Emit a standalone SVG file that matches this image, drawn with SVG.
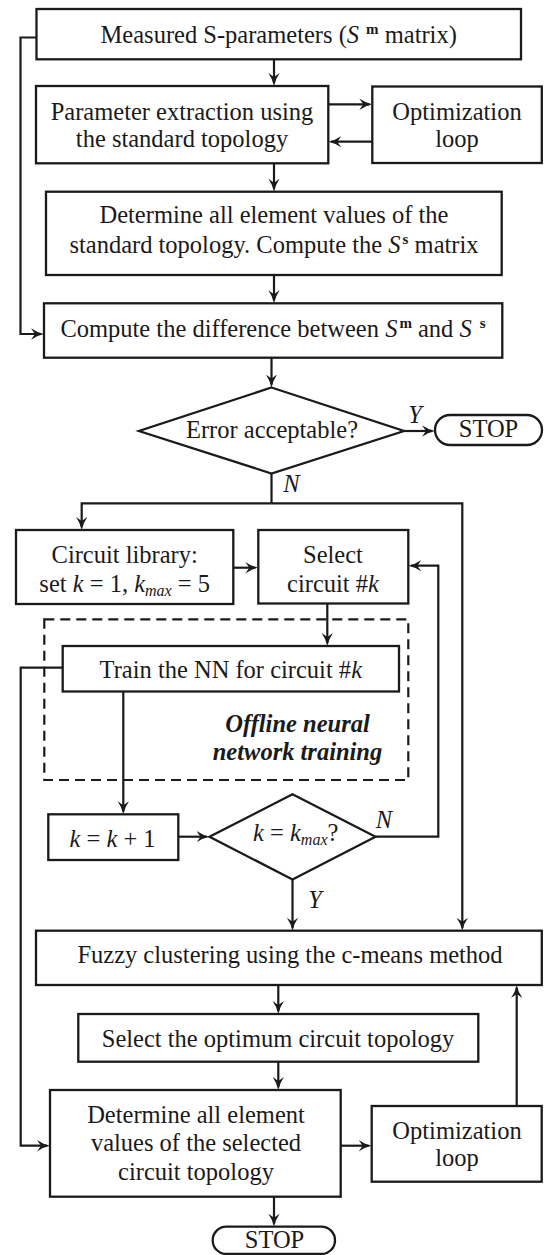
<svg xmlns="http://www.w3.org/2000/svg" width="544" height="1255" viewBox="0 0 544 1255">
<defs>
<style>
.box{fill:#fff;stroke:#1a1a1a;stroke-width:2.3}
.dash{fill:none;stroke:#1a1a1a;stroke-width:2.2;stroke-dasharray:10 6}
.conn{fill:none;stroke:#1a1a1a;stroke-width:2.2}
.arr{marker-end:url(#ah)}
text{font-family:"Liberation Serif","Times New Roman",serif;font-size:24.5px;fill:#1a1a1a}
.c{text-anchor:middle}
.i{font-style:italic}
.sup{font-size:15px;font-weight:bold}
.sub{font-size:16px;font-style:italic}
.bi{font-style:italic;font-weight:bold}
</style>
<marker id="ah" viewBox="0 0 13 12" refX="10" refY="6" markerWidth="13" markerHeight="12" markerUnits="userSpaceOnUse" orient="auto">
<path d="M0,0.3 Q6,4.6 13,6 Q6,7.4 0,11.7 L4,6 z" fill="#1a1a1a"/>
</marker>
</defs>
<rect width="544" height="1255" fill="#fff"/>

<g id="connectors">
<path class="conn arr" d="M274,59.5 V83"/>
<path class="conn arr" d="M328,104.3 H369.3"/>
<path class="conn arr" d="M372.3,141.7 H331.3"/>
<path class="conn arr" d="M274,163.3 V188.7"/>
<path class="conn arr" d="M274,275 V300.3"/>
<path class="conn arr" d="M36.5,37.5 H20.5 V334 H41"/>
<path class="conn arr" d="M271.5,357.7 V384.5"/>
<path class="conn arr" d="M404,431 H432"/>
<path class="conn" d="M271.5,473.5 V503.3"/>
<path class="conn arr" d="M271.5,503.3 H81.7 V527"/>
<path class="conn arr" d="M271.5,503.3 H462.3 V927.7"/>
<path class="conn arr" d="M233.3,567.7 H255.3"/>
<path class="conn arr" d="M327.3,603.5 V643"/>
<path class="conn arr" d="M62.7,667.7 H20.7 V1145.7 H47"/>
<path class="conn arr" d="M123.3,691.5 V811.3"/>
<path class="conn arr" d="M178.3,836.7 H206.5"/>
<path class="conn arr" d="M375.5,836.7 H438.3 V565.7 H411.3"/>
<path class="conn arr" d="M292.5,879.5 V927.7"/>
<path class="conn arr" d="M278.3,985 V1011"/>
<path class="conn arr" d="M278.3,1061.7 V1087"/>
<path class="conn arr" d="M340.7,1145.7 H368.7"/>
<path class="conn arr" d="M516.7,1106 V988"/>
<path class="conn arr" d="M274,1196.7 V1223.7"/>
</g>

<g id="measured">
<rect class="box" x="36.5" y="9" width="484.5" height="50.3"/>
<text class="c" x="278.7" y="42.5">Measured S-parameters (<tspan class="i">S</tspan><tspan class="sup" dx="7" dy="-9">m</tspan><tspan dy="9"> matrix)</tspan></text>
</g>

<g id="extraction">
<rect class="box" x="36" y="86" width="292.3" height="77.3"/>
<text class="c" x="182" y="119.5">Parameter extraction using</text>
<text class="c" x="182" y="147">the standard topology</text>
</g>

<g id="opt1">
<rect class="box" x="372.3" y="86.5" width="169.5" height="76.5"/>
<text class="c" x="457" y="119.5">Optimization</text>
<text class="c" x="457" y="147">loop</text>
</g>

<g id="determine-std">
<rect class="box" x="46" y="191.7" width="455.7" height="83.3"/>
<text class="c" x="274" y="223.3">Determine all element values of the</text>
<text class="c" x="274" y="253.3">standard topology. Compute the <tspan class="i">S</tspan><tspan class="sup" dx="2" dy="-9">s</tspan><tspan dy="9"> matrix</tspan></text>
</g>

<g id="difference">
<rect class="box" x="44" y="303.3" width="458.3" height="54.4"/>
<text class="c" x="273" y="336.7">Compute the difference between <tspan class="i">S</tspan><tspan class="sup" dx="2" dy="-9">m</tspan><tspan dy="9"> and </tspan><tspan class="i">S</tspan><tspan class="sup" dx="8" dy="-9">s</tspan></text>
</g>

<g id="error-decision">
<polygon class="box" points="271.5,387.5 404,431 271.5,473.5 139,431"/>
<text class="c" x="272" y="438">Error acceptable?</text>
<text class="i" x="408.3" y="423.3">Y</text>
<text class="i" x="283.3" y="492.3">N</text>
</g>

<g id="stop1">
<rect class="box" x="435" y="415" width="107" height="30" rx="15" ry="15"/>
<text class="c" x="488.5" y="437.3">STOP</text>
</g>

<g id="library">
<rect class="box" x="16" y="530" width="217.3" height="74"/>
<text class="c" x="124.7" y="563.3">Circuit library:</text>
<text class="c" x="124.7" y="591.7">set <tspan class="i">k</tspan> = 1, <tspan class="i">k</tspan><tspan class="sub" dy="4">max</tspan><tspan dy="-4"> = 5</tspan></text>
</g>

<g id="select-circuit">
<rect class="box" x="258.3" y="530" width="150" height="73.5"/>
<text class="c" x="333" y="563.3">Select</text>
<text class="c" x="333" y="591.7">circuit #<tspan class="i">k</tspan></text>
</g>

<g id="offline-training">
<rect class="dash" x="44.3" y="619.3" width="364" height="160.7"/>
<text class="c bi" x="297.5" y="731.7">Offline neural</text>
<text class="c bi" x="297.5" y="760">network training</text>
</g>

<g id="train">
<rect class="box" x="62.7" y="646" width="336.3" height="45.5"/>
<text class="c" x="230.8" y="678.3">Train the NN for circuit #<tspan class="i">k</tspan></text>
</g>

<g id="increment">
<rect class="box" x="48.3" y="814.3" width="130" height="45.7"/>
<text class="c" x="112.5" y="846.7"><tspan class="i">k</tspan> = <tspan class="i">k</tspan> + 1</text>
</g>

<g id="kmax-decision">
<polygon class="box" points="292.5,794.3 375.5,836.7 292.5,879.5 209.5,836.7"/>
<text class="c" x="295.7" y="841"><tspan class="i">k</tspan> = <tspan class="i">k</tspan><tspan class="sub" dy="4">max</tspan><tspan dy="-4">?</tspan></text>
<text class="i" x="375.7" y="828.3">N</text>
<text class="i" x="308.3" y="908.3">Y</text>
</g>

<g id="fuzzy">
<rect class="box" x="36" y="930.7" width="505.8" height="54.3"/>
<text class="c" x="290" y="963.3">Fuzzy clustering using the c-means method</text>
</g>

<g id="select-optimum">
<rect class="box" x="78.3" y="1014" width="400" height="47.7"/>
<text class="c" x="278" y="1046.7">Select the optimum circuit topology</text>
</g>

<g id="determine-selected">
<rect class="box" x="50" y="1090" width="290.7" height="106.7"/>
<text class="c" x="196" y="1122.7">Determine all element</text>
<text class="c" x="196" y="1151">values of the selected</text>
<text class="c" x="196" y="1179.5">circuit topology</text>
</g>

<g id="opt2">
<rect class="box" x="371.7" y="1106" width="170" height="75.7"/>
<text class="c" x="457" y="1138.5">Optimization</text>
<text class="c" x="457" y="1165.5">loop</text>
</g>

<g id="stop2">
<rect class="box" x="212.7" y="1226.7" width="122.3" height="27.3" rx="13.6" ry="13.6"/>
<text class="c" x="274.5" y="1248.3">STOP</text>
</g>
</svg>
